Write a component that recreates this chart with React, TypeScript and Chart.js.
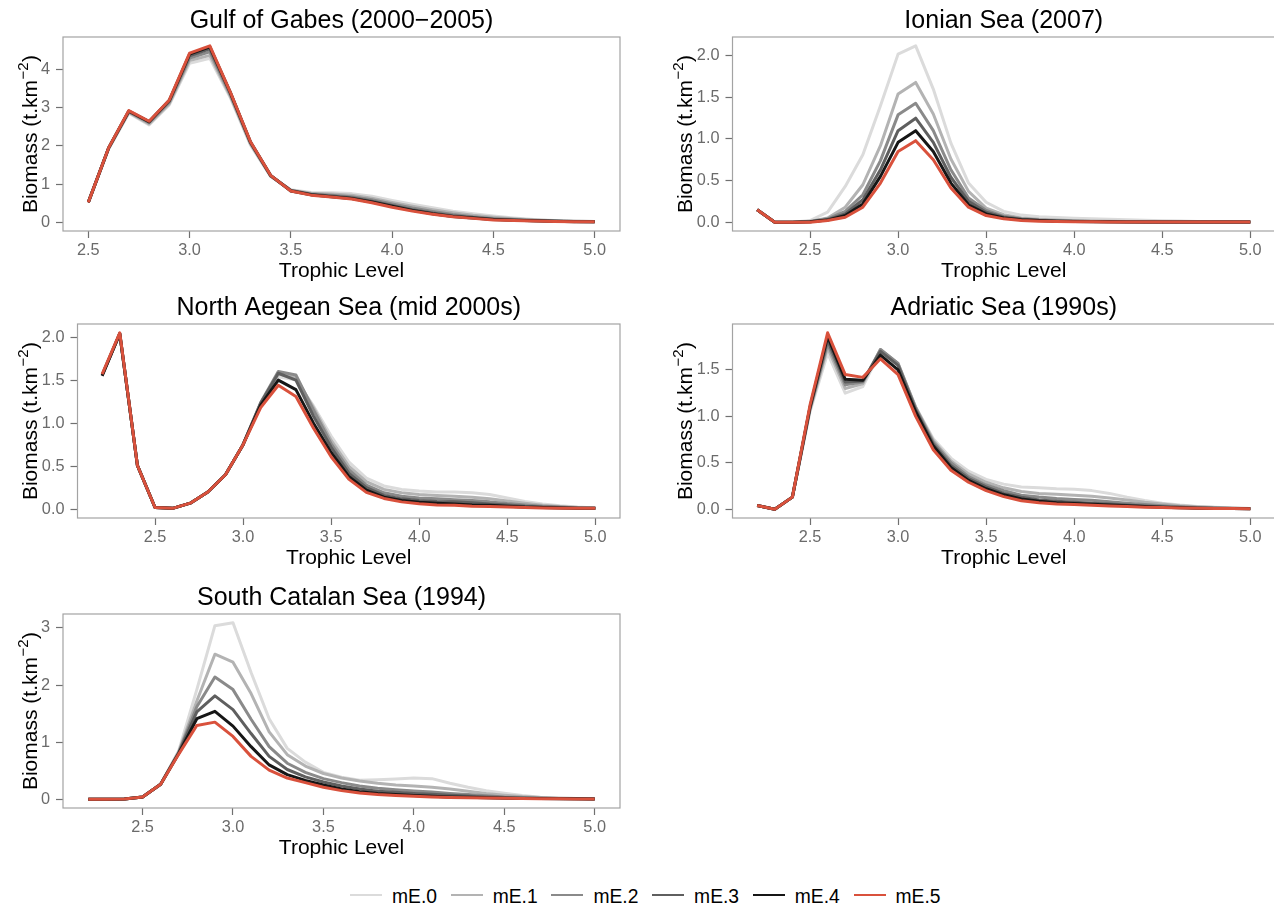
import React, { useEffect, useRef } from 'react';
import { Chart, registerables } from 'chart.js';

Chart.register(...registerables);

const FONT = '"Liberation Sans", Arial, Helvetica, sans-serif';

// ---------- data ----------
const SERIES_NAMES = ['mE.0', 'mE.1', 'mE.2', 'mE.3', 'mE.4', 'mE.5'];
const SERIES_COLORS = ['#dbdbdb', '#b3b3b3', '#8a8a8a', '#5f5f5f', '#161616', '#d9513c'];

const X_TICKS = [2.5, 3.0, 3.5, 4.0, 4.5, 5.0];

const TL_GABES = [2.5, 2.6, 2.7, 2.8, 2.9, 3.0, 3.1, 3.2, 3.3, 3.4, 3.5, 3.6, 3.7, 3.8, 3.9, 4.0, 4.1, 4.2, 4.3, 4.4, 4.5, 4.6, 4.7, 4.8, 4.9, 5.0];
const TL_FULL = [2.2, 2.3, 2.4, 2.5, 2.6, 2.7, 2.8, 2.9, 3.0, 3.1, 3.2, 3.3, 3.4, 3.5, 3.6, 3.7, 3.8, 3.9, 4.0, 4.1, 4.2, 4.3, 4.4, 4.5, 4.6, 4.7, 4.8, 4.9, 5.0];

const GABES_ME = [
  [0.52, 1.92, 2.86, 2.55, 3.08, 4.17, 4.30, 3.28, 2.03, 1.20, 0.85, 0.78, 0.77, 0.75, 0.68, 0.57, 0.47, 0.38, 0.29, 0.22, 0.16, 0.11, 0.07, 0.045, 0.03, 0.02],
  [0.52, 1.93, 2.88, 2.58, 3.11, 4.24, 4.38, 3.32, 2.06, 1.21, 0.84, 0.76, 0.74, 0.71, 0.63, 0.52, 0.42, 0.33, 0.25, 0.18, 0.13, 0.09, 0.06, 0.04, 0.025, 0.015],
  [0.52, 1.94, 2.90, 2.61, 3.15, 4.31, 4.47, 3.36, 2.08, 1.22, 0.83, 0.74, 0.71, 0.67, 0.59, 0.48, 0.37, 0.28, 0.20, 0.14, 0.10, 0.07, 0.05, 0.03, 0.02, 0.012],
  [0.52, 1.94, 2.91, 2.63, 3.18, 4.37, 4.55, 3.40, 2.10, 1.22, 0.83, 0.73, 0.69, 0.64, 0.55, 0.44, 0.33, 0.24, 0.17, 0.12, 0.08, 0.055, 0.04, 0.025, 0.015, 0.01],
  [0.52, 1.95, 2.92, 2.64, 3.20, 4.41, 4.60, 3.42, 2.11, 1.23, 0.82, 0.72, 0.67, 0.62, 0.53, 0.42, 0.31, 0.22, 0.15, 0.11, 0.07, 0.05, 0.035, 0.022, 0.014, 0.01],
  [0.52, 1.95, 2.93, 2.65, 3.21, 4.44, 4.63, 3.43, 2.12, 1.23, 0.82, 0.71, 0.66, 0.61, 0.51, 0.39, 0.29, 0.21, 0.14, 0.10, 0.06, 0.045, 0.03, 0.02, 0.012, 0.01],
];

const IONIAN_ME = [
  [0.15, 0.0, 0.0, 0.02, 0.12, 0.43, 0.81, 1.40, 2.02, 2.12, 1.60, 0.95, 0.47, 0.24, 0.13, 0.085, 0.065, 0.055, 0.048, 0.042, 0.036, 0.03, 0.024, 0.018, 0.013, 0.009, 0.006, 0.004, 0.003],
  [0.15, 0.0, 0.0, 0.01, 0.05, 0.18, 0.45, 0.92, 1.54, 1.68, 1.30, 0.76, 0.37, 0.17, 0.09, 0.05, 0.035, 0.025, 0.018, 0.013, 0.01, 0.008, 0.006, 0.004, 0.003, 0.002, 0.002, 0.001, 0.001],
  [0.15, 0.0, 0.0, 0.008, 0.04, 0.13, 0.33, 0.74, 1.29, 1.43, 1.10, 0.63, 0.29, 0.14, 0.07, 0.04, 0.026, 0.018, 0.012, 0.009, 0.006, 0.005, 0.004, 0.003, 0.002, 0.002, 0.001, 0.001, 0.001],
  [0.15, 0.0, 0.0, 0.006, 0.03, 0.10, 0.27, 0.63, 1.10, 1.25, 0.96, 0.54, 0.25, 0.12, 0.06, 0.035, 0.022, 0.015, 0.01, 0.007, 0.005, 0.004, 0.003, 0.002, 0.002, 0.001, 0.001, 0.001, 0.001],
  [0.15, 0.0, 0.0, 0.005, 0.025, 0.08, 0.22, 0.55, 0.96, 1.10, 0.85, 0.47, 0.21, 0.10, 0.05, 0.03, 0.02, 0.012, 0.008, 0.006, 0.004, 0.003, 0.002, 0.002, 0.001, 0.001, 0.001, 0.001, 0.001],
  [0.15, 0.0, 0.0, 0.0, 0.02, 0.06, 0.18, 0.47, 0.85, 0.98, 0.75, 0.41, 0.18, 0.08, 0.04, 0.02, 0.012, 0.008, 0.005, 0.004, 0.003, 0.002, 0.002, 0.001, 0.001, 0.001, 0.001, 0.001, 0.001],
];

const AEGEAN_ME = [
  [1.56, 2.04, 0.51, 0.02, 0.01, 0.07, 0.20, 0.40, 0.75, 1.22, 1.54, 1.50, 1.20, 0.85, 0.55, 0.36, 0.27, 0.23, 0.21, 0.20, 0.20, 0.19, 0.17, 0.13, 0.09, 0.06, 0.04, 0.025, 0.015],
  [1.56, 2.04, 0.51, 0.02, 0.01, 0.07, 0.20, 0.40, 0.75, 1.23, 1.57, 1.53, 1.18, 0.80, 0.50, 0.32, 0.23, 0.19, 0.17, 0.16, 0.15, 0.14, 0.12, 0.095, 0.07, 0.045, 0.03, 0.02, 0.012],
  [1.56, 2.04, 0.51, 0.02, 0.01, 0.07, 0.20, 0.40, 0.75, 1.24, 1.60, 1.56, 1.15, 0.76, 0.46, 0.28, 0.19, 0.15, 0.13, 0.12, 0.11, 0.10, 0.085, 0.065, 0.05, 0.035, 0.025, 0.015, 0.01],
  [1.56, 2.04, 0.51, 0.02, 0.01, 0.07, 0.20, 0.40, 0.75, 1.23, 1.58, 1.50, 1.08, 0.72, 0.42, 0.25, 0.16, 0.12, 0.10, 0.09, 0.085, 0.075, 0.06, 0.05, 0.035, 0.025, 0.02, 0.012, 0.01],
  [1.55, 2.04, 0.51, 0.02, 0.01, 0.07, 0.20, 0.40, 0.75, 1.21, 1.50, 1.39, 1.00, 0.66, 0.38, 0.22, 0.14, 0.10, 0.08, 0.07, 0.06, 0.05, 0.045, 0.035, 0.025, 0.02, 0.015, 0.01, 0.01],
  [1.57, 2.05, 0.51, 0.02, 0.01, 0.07, 0.20, 0.40, 0.75, 1.18, 1.44, 1.31, 0.94, 0.61, 0.35, 0.195, 0.125, 0.085, 0.062, 0.05, 0.045, 0.035, 0.03, 0.025, 0.02, 0.015, 0.01, 0.01, 0.01],
];

const ADRIATIC_ME = [
  [0.04, 0.0, 0.13, 1.05, 1.68, 1.25, 1.32, 1.70, 1.55, 1.10, 0.76, 0.55, 0.41, 0.32, 0.27, 0.24, 0.23, 0.22, 0.215, 0.20, 0.17, 0.13, 0.095, 0.065, 0.045, 0.03, 0.02, 0.012, 0.008],
  [0.04, 0.0, 0.13, 1.07, 1.74, 1.30, 1.35, 1.72, 1.57, 1.10, 0.74, 0.52, 0.38, 0.29, 0.23, 0.19, 0.17, 0.16, 0.15, 0.14, 0.12, 0.10, 0.075, 0.055, 0.038, 0.026, 0.017, 0.011, 0.007],
  [0.04, 0.0, 0.13, 1.08, 1.78, 1.34, 1.37, 1.72, 1.57, 1.09, 0.72, 0.50, 0.35, 0.26, 0.20, 0.15, 0.13, 0.115, 0.105, 0.095, 0.08, 0.065, 0.05, 0.038, 0.027, 0.019, 0.013, 0.009, 0.006],
  [0.04, 0.0, 0.13, 1.09, 1.82, 1.37, 1.38, 1.70, 1.55, 1.07, 0.70, 0.47, 0.33, 0.24, 0.17, 0.13, 0.10, 0.085, 0.075, 0.065, 0.055, 0.045, 0.035, 0.027, 0.02, 0.014, 0.01, 0.007, 0.005],
  [0.04, 0.0, 0.13, 1.10, 1.86, 1.40, 1.39, 1.66, 1.50, 1.05, 0.68, 0.45, 0.31, 0.22, 0.155, 0.11, 0.085, 0.07, 0.06, 0.052, 0.044, 0.036, 0.028, 0.021, 0.015, 0.011, 0.008, 0.006, 0.005],
  [0.04, 0.0, 0.13, 1.12, 1.90, 1.45, 1.42, 1.62, 1.45, 1.00, 0.64, 0.42, 0.29, 0.20, 0.135, 0.09, 0.07, 0.057, 0.05, 0.042, 0.035, 0.028, 0.022, 0.017, 0.012, 0.01, 0.008, 0.006, 0.005],
];

const CATALAN_ME = [
  [0.0, 0.0, 0.005, 0.04, 0.26, 0.85, 1.92, 3.04, 3.09, 2.22, 1.41, 0.89, 0.65, 0.47, 0.385, 0.33, 0.34, 0.355, 0.37, 0.36, 0.28, 0.21, 0.15, 0.105, 0.065, 0.035, 0.02, 0.012, 0.008],
  [0.0, 0.0, 0.005, 0.04, 0.26, 0.83, 1.72, 2.54, 2.40, 1.85, 1.18, 0.78, 0.58, 0.45, 0.37, 0.32, 0.28, 0.25, 0.23, 0.21, 0.18, 0.14, 0.10, 0.07, 0.045, 0.03, 0.018, 0.012, 0.008],
  [0.0, 0.0, 0.005, 0.04, 0.26, 0.82, 1.62, 2.14, 1.92, 1.40, 0.92, 0.63, 0.47, 0.36, 0.29, 0.23, 0.19, 0.165, 0.145, 0.125, 0.10, 0.08, 0.06, 0.04, 0.028, 0.019, 0.013, 0.009, 0.006],
  [0.0, 0.0, 0.005, 0.04, 0.26, 0.81, 1.53, 1.81, 1.57, 1.15, 0.75, 0.52, 0.39, 0.30, 0.23, 0.18, 0.14, 0.12, 0.10, 0.085, 0.07, 0.055, 0.04, 0.03, 0.02, 0.014, 0.01, 0.007, 0.005],
  [0.0, 0.0, 0.005, 0.04, 0.26, 0.80, 1.41, 1.54, 1.28, 0.92, 0.60, 0.43, 0.33, 0.25, 0.18, 0.13, 0.10, 0.08, 0.065, 0.052, 0.04, 0.032, 0.025, 0.018, 0.013, 0.01, 0.008, 0.006, 0.005],
  [0.0, 0.0, 0.005, 0.04, 0.26, 0.79, 1.29, 1.35, 1.10, 0.75, 0.51, 0.37, 0.29, 0.21, 0.15, 0.11, 0.08, 0.065, 0.05, 0.04, 0.03, 0.025, 0.02, 0.015, 0.01, 0.008, 0.006, 0.005, 0.005],
];

const Y_TICKS_INT = [0, 1, 2, 3, 4];
const Y_TICKS_CAT = [0, 1, 2, 3];
const Y_TICKS_HALF = [0.0, 0.5, 1.0, 1.5, 2.0];
const Y_TICKS_ADRIATIC = [0.0, 0.5, 1.0, 1.5];

const X_TITLE = 'Trophic Level';
const Y_TITLE_MAIN = 'Biomass (t.km';
const Y_TITLE_SUP = '\u22122';
const Y_TITLE_END = ')';

const PANELS = [
  { title: 'Gulf of Gabes (2000\u22122005)', x: TL_GABES, series: GABES_ME, xRange: [2.375, 5.125], yRange: [-0.2315, 4.8615], yTicks: Y_TICKS_INT, yDec: 0 },
  { title: 'Ionian Sea (2007)', x: TL_FULL, series: IONIAN_ME, xRange: [2.06, 5.14], yRange: [-0.106, 2.226], yTicks: Y_TICKS_HALF, yDec: 1 },
  { title: 'North Aegean Sea (mid 2000s)', x: TL_FULL, series: AEGEAN_ME, xRange: [2.06, 5.14], yRange: [-0.1025, 2.1525], yTicks: Y_TICKS_HALF, yDec: 1 },
  { title: 'Adriatic Sea (1990s)', x: TL_FULL, series: ADRIATIC_ME, xRange: [2.06, 5.14], yRange: [-0.095, 1.995], yTicks: Y_TICKS_ADRIATIC, yDec: 1 },
  { title: 'South Catalan Sea (1994)', x: TL_FULL, series: CATALAN_ME, xRange: [2.06, 5.14], yRange: [-0.1545, 3.2445], yTicks: Y_TICKS_CAT, yDec: 0 },
];

// ---------- layout (kept apart from data) ----------
const LAYOUT = [
  { left: 0, top: 0, yAxisWidth: 63 },
  { left: 655, top: 0, yAxisWidth: 77.5 },
  { left: 0, top: 287, yAxisWidth: 77.5 },
  { left: 655, top: 287, yAxisWidth: 77.5 },
  { left: 0, top: 577, yAxisWidth: 63 },
];
const CANVAS_W = 622;
const CANVAS_H = 287;

const boxPlugin = {
  id: 'panelBox',
  afterDatasetsDraw(chart: any) {
    const { ctx, chartArea: a } = chart;
    ctx.save();
    ctx.strokeStyle = '#a3a3a3';
    ctx.lineWidth = 1.2;
    ctx.strokeRect(a.left, a.top, a.right - a.left, a.bottom - a.top);
    ctx.restore();
  },
};

// y-axis title with a true superscript (km^-2), drawn rotated at the left edge
const yTitlePlugin = {
  id: 'yTitleSup',
  afterDraw(chart: any) {
    const { ctx, chartArea: a } = chart;
    const mainFont = `21px ${FONT}`;
    const supFont = `15px ${FONT}`;
    ctx.save();
    ctx.font = mainFont;
    const w1 = ctx.measureText(Y_TITLE_MAIN).width;
    const w3 = ctx.measureText(Y_TITLE_END).width;
    ctx.font = supFont;
    const w2 = ctx.measureText(Y_TITLE_SUP).width + 1;
    const total = w1 + w2 + w3;
    const cy = (a.top + a.bottom) / 2;
    ctx.translate(37, cy);
    ctx.rotate(-Math.PI / 2);
    ctx.fillStyle = '#000';
    ctx.textBaseline = 'alphabetic';
    ctx.textAlign = 'left';
    let x = -total / 2;
    ctx.font = mainFont;
    ctx.fillText(Y_TITLE_MAIN, x, 0);
    x += w1;
    ctx.font = supFont;
    ctx.fillText(Y_TITLE_SUP, x + 0.5, -9);
    x += w2;
    ctx.font = mainFont;
    ctx.fillText(Y_TITLE_END, x, 0);
    ctx.restore();
  },
};

function Panel({ cfg, lay }: { cfg: any; lay: any }) {
  const ref = useRef<HTMLCanvasElement | null>(null);
  useEffect(() => {
    if (!ref.current) return;
    const gridOpts = {
      display: true,
      drawOnChartArea: false,
      drawTicks: true,
      tickLength: 7,
      tickColor: '#707070',
      tickWidth: 1.2,
      color: '#707070',
    };
    const chart = new Chart(ref.current, {
      type: 'line',
      data: {
        datasets: cfg.series.map((vals: number[], k: number) => ({
          label: SERIES_NAMES[k],
          data: cfg.x.map((x: number, i: number) => ({ x, y: vals[i] })),
          borderColor: SERIES_COLORS[k],
          backgroundColor: SERIES_COLORS[k],
          borderWidth: 3,
          pointRadius: 0,
          fill: false,
          tension: 0,
          order: 5 - k,
          borderJoinStyle: 'round',
          borderCapStyle: 'butt',
        })),
      },
      options: {
        animation: false,
        responsive: false,
        events: [],
        layout: { padding: { left: 0, right: 2, top: 0, bottom: 0 } },
        plugins: {
          legend: { display: false },
          tooltip: { enabled: false },
          title: {
            display: true,
            text: cfg.title,
            fullSize: false,
            color: '#000',
            font: { family: FONT, size: 25, weight: 'normal', lineHeight: 1.2 },
            padding: { top: 6, bottom: 1 },
          },
        },
        scales: {
          x: {
            type: 'linear',
            bounds: 'data',
            min: cfg.xRange[0],
            max: cfg.xRange[1],
            afterBuildTicks: (s: any) => {
              s.ticks = X_TICKS.map((v) => ({ value: v }));
            },
            afterFit: (s: any) => {
              s.height = 56;
            },
            ticks: {
              color: '#6b6b6b',
              font: { family: FONT, size: 16.3 },
              padding: 3,
              maxRotation: 0,
              autoSkip: false,
              callback: (v: any) => Number(v).toFixed(1),
            },
            grid: gridOpts,
            border: { display: false },
            title: {
              display: true,
              text: X_TITLE,
              color: '#000',
              font: { family: FONT, size: 21, lineHeight: 1.2 },
              padding: { top: 0, bottom: 3.4 },
            },
          },
          y: {
            type: 'linear',
            bounds: 'data',
            min: cfg.yRange[0],
            max: cfg.yRange[1],
            afterBuildTicks: (s: any) => {
              s.ticks = cfg.yTicks.map((v: number) => ({ value: v }));
            },
            afterFit: (s: any) => {
              s.width = lay.yAxisWidth;
            },
            ticks: {
              color: '#6b6b6b',
              font: { family: FONT, size: 16.3 },
              padding: 6,
              autoSkip: false,
              callback: (v: any) => Number(v).toFixed(cfg.yDec),
            },
            grid: gridOpts,
            border: { display: false },
            title: { display: false },
          },
        },
      },
      plugins: [boxPlugin, yTitlePlugin],
    } as any);
    return () => chart.destroy();
  }, [cfg, lay]);
  return (
    <canvas
      ref={ref}
      width={CANVAS_W}
      height={CANVAS_H}
      style={{ position: 'absolute', left: lay.left, top: lay.top, width: CANVAS_W, height: CANVAS_H }}
    />
  );
}

export default function App() {
  return (
    <div
      style={{
        position: 'absolute',
        left: 0,
        top: 0,
        width: 1274,
        height: 904,
        overflow: 'hidden',
        background: '#fff',
      }}
    >
      {PANELS.map((p, i) => (
        <Panel key={p.title} cfg={p} lay={LAYOUT[i]} />
      ))}
      {SERIES_NAMES.map((n, i) => (
        <React.Fragment key={n}>
          <div
            style={{
              position: 'absolute',
              left: 350 + i * 100.7,
              top: 893.6,
              width: 32,
              height: 2.8,
              background: SERIES_COLORS[i],
            }}
          />
          <div
            style={{
              position: 'absolute',
              left: 392 + i * 100.7,
              top: 886.5,
              fontFamily: FONT,
              fontSize: 19.3,
              lineHeight: '19px',
              color: '#000',
              whiteSpace: 'nowrap',
            }}
          >
            {n}
          </div>
        </React.Fragment>
      ))}
    </div>
  );
}
